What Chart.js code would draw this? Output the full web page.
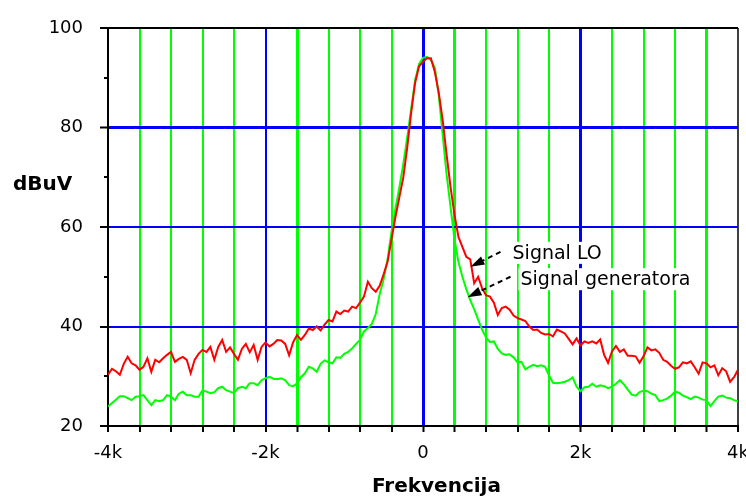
<!DOCTYPE html>
<html>
<head>
<meta charset="utf-8">
<script src="https://cdn.jsdelivr.net/npm/chart.js@4/dist/chart.umd.min.js"></script>
<style>
html,body{margin:0;padding:0;background:#fff;}
canvas{display:block;}
</style>
</head>
<body>
<canvas id="c" width="746" height="497"></canvas>
<script>
// ---- data ----
const FREQ_HZ = Array.from({length: 161}, (_, i) => -4000 + 50 * i);

const SIGNAL_LO = [
 30.3,31.5,31.0,30.3,32.5,33.9,32.6,32.2,31.3,31.9,
 33.6,30.9,33.3,32.8,33.6,34.3,34.9,32.9,33.5,33.9,
 33.3,30.6,33.3,34.5,35.3,34.9,35.9,33.3,35.9,37.3,
 34.9,35.8,34.5,33.3,35.5,36.5,34.8,36.3,33.3,35.9,
 36.8,36.0,36.5,37.3,37.2,36.5,34.2,36.8,38.3,37.3,
 38.3,39.6,39.3,40.0,39.2,40.4,41.3,41.0,43.0,42.5,
 43.2,43.0,44.0,43.7,44.8,46.0,49.0,47.7,47.0,48.2,
 50.5,53.0,57.5,62.0,66.0,70.0,76.0,83.0,89.0,92.3,
 93.2,93.9,93.9,91.2,87.0,81.5,74.5,68.0,62.5,58.0,
 56.0,54.0,53.5,48.7,50.0,47.7,46.3,46.0,44.8,42.3,
 43.7,44.0,43.4,42.2,41.7,41.4,41.1,40.0,39.3,39.4,
 38.7,38.4,38.5,38.0,39.4,39.0,38.6,37.5,36.4,37.6,
 36.2,37.0,36.7,37.0,36.6,37.4,34.3,32.7,35.0,36.1,
 34.9,35.4,34.1,34.1,34.0,32.7,34.0,35.8,35.2,35.4,
 34.7,33.3,32.9,32.1,31.5,31.8,32.8,32.6,33.0,31.8,
 30.5,32.8,32.6,31.8,32.2,30.2,31.6,31.0,28.9,29.8,
 31.3
];

const SIGNAL_GEN = [
 23.9,24.6,25.3,26.0,26.0,25.6,25.2,25.9,26.0,26.2,
 25.2,24.2,25.2,25.0,25.2,26.2,25.9,25.2,26.5,26.9,
 26.2,26.2,25.9,25.9,27.2,26.9,26.6,26.8,27.6,27.9,
 27.2,26.9,26.6,27.6,27.9,27.6,28.6,28.6,28.2,29.2,
 29.6,29.9,29.5,29.4,29.6,29.2,28.2,28.0,28.5,29.8,
 30.6,31.9,31.6,30.9,32.5,33.2,32.8,32.6,33.8,33.7,
 34.5,34.9,35.6,36.5,37.3,39.0,39.7,40.5,42.5,46.5,
 49.5,53.5,59.0,63.7,68.0,72.7,78.0,83.8,89.5,92.8,
 94.0,94.2,93.6,92.0,86.5,78.5,70.5,64.0,57.5,53.0,
 50.0,47.5,45.3,43.5,41.4,39.4,37.8,36.9,37.0,35.5,
 34.6,34.3,34.4,33.8,32.8,32.9,31.4,31.9,32.3,32.0,
 32.2,31.9,30.2,28.7,28.6,28.7,28.9,29.2,29.8,27.9,
 27.0,27.8,27.9,28.5,27.9,28.2,28.0,27.6,27.9,28.5,
 29.2,28.4,27.3,26.3,26.1,26.8,27.1,27.0,26.5,26.2,
 25.0,25.2,25.5,26.1,26.9,26.7,26.1,25.8,25.4,25.9,
 25.7,25.3,25.2,24.0,25.0,25.9,26.1,25.7,25.6,25.2,
 24.9
];

const SERIES_NAMES = ['Signal LO', 'Signal generatora'];
const X_TICK_VALUES = [-4000, -2000, 0, 2000, 4000];
const X_TICK_TEXT = ['-4k', '-2k', '0', '2k', '4k'];
const Y_TICK_VALUES = [20, 40, 60, 80, 100];
const X_TITLE = 'Frekvencija';
const Y_TITLE = 'dBuV';

// ---- styling helpers ----
const FONT = '"DejaVu Sans", sans-serif';
const BLUE = '#0000ff', GREEN = '#00ff00', RED = '#ff0000';
const THICK_X = [-1600, 0, 400, 2000, 3600];

// annotation placement in data coordinates
const LABELS = [
  {text: SERIES_NAMES[0], x: 1137, y: 53.6, tail: [984, 55.0], tip: [603, 52.0]},
  {text: SERIES_NAMES[1], x: 1238, y: 48.3, tail: [1111, 50.0], tip: [565, 45.9]}
];

function drawArrow(ctx, x0, y0, x1, y1) {
  const dx = x1 - x0, dy = y1 - y0, len = Math.hypot(dx, dy);
  const ux = dx / len, uy = dy / len;
  const head = 14, hw = 4.5;
  const bx = x1 - ux * head, by = y1 - uy * head;
  ctx.save();
  ctx.strokeStyle = '#000';
  ctx.lineWidth = 2;
  ctx.setLineDash([5, 4]);
  ctx.beginPath(); ctx.moveTo(x0, y0); ctx.lineTo(bx, by); ctx.stroke();
  ctx.setLineDash([]);
  ctx.fillStyle = '#000';
  ctx.beginPath();
  ctx.moveTo(x1, y1);
  ctx.lineTo(bx - uy * hw, by + ux * hw);
  ctx.lineTo(bx + uy * hw, by - ux * hw);
  ctx.closePath(); ctx.fill();
  ctx.restore();
}

const overlay = {
  id: 'overlay',
  afterDraw(chart) {
    const {ctx, chartArea: a, scales: {x, y}} = chart;
    ctx.save();
    // minor y ticks
    ctx.strokeStyle = '#000'; ctx.lineWidth = 2;
    y.ticks.forEach(t => {
      if (!Y_TICK_VALUES.includes(t.value)) {
        const py = Math.round(y.getPixelForValue(t.value));
        ctx.beginPath(); ctx.moveTo(a.left - 4, py); ctx.lineTo(a.left, py); ctx.stroke();
      }
    });
    // axis titles
    ctx.fillStyle = '#000';
    ctx.font = 'bold 20px ' + FONT;
    ctx.textBaseline = 'alphabetic';
    ctx.textAlign = 'left';
    ctx.fillText(Y_TITLE, 13, y.getPixelForValue(67.4));
    ctx.textAlign = 'center';
    ctx.fillText(X_TITLE, x.getPixelForValue(171), a.bottom + 66);
    // series labels with arrows
    ctx.font = '19px ' + FONT;
    ctx.textAlign = 'left';
    LABELS.forEach(l => {
      const px = x.getPixelForValue(l.x), py = y.getPixelForValue(l.y);
      const w = ctx.measureText(l.text).width;
      ctx.fillStyle = '#fff';
      ctx.fillRect(px - 2, py - 17, w + 4, 22);
      ctx.fillStyle = '#000';
      ctx.fillText(l.text, px, py);
      drawArrow(ctx, x.getPixelForValue(l.tail[0]), y.getPixelForValue(l.tail[1]),
                     x.getPixelForValue(l.tip[0]), y.getPixelForValue(l.tip[1]));
    });
    ctx.restore();
  }
};

new Chart(document.getElementById('c'), {
  type: 'line',
  data: {
    datasets: [
      {label: SERIES_NAMES[0], data: FREQ_HZ.map((f, i) => ({x: f, y: SIGNAL_LO[i]})),
       borderColor: RED, borderWidth: 2, pointRadius: 0, tension: 0, fill: false},
      {label: SERIES_NAMES[1], data: FREQ_HZ.map((f, i) => ({x: f, y: SIGNAL_GEN[i]})),
       borderColor: GREEN, borderWidth: 2, pointRadius: 0, tension: 0, fill: false}
    ]
  },
  options: {
    responsive: false,
    animation: false,
    devicePixelRatio: 1,
    layout: {padding: {top: 28, right: 8, left: 0, bottom: 0}},
    plugins: {legend: {display: false}, tooltip: {enabled: false}, title: {display: false}},
    scales: {
      x: {
        type: 'linear', min: -4000, max: 4000,
        ticks: {
          stepSize: 400, autoSkip: false, maxRotation: 0, minRotation: 0, padding: 11,
          color: '#000', font: {family: FONT, size: 18},
          callback: v => { const i = X_TICK_VALUES.indexOf(Math.round(v)); return i >= 0 ? X_TICK_TEXT[i] : ''; }
        },
        grid: {
          color: c => {
            const v = Math.round(c.tick.value);
            if (v === -4000) return '#000';
            if (v === 4000) return '#404040';
            if (v % 2000 === 0) return BLUE;
            return GREEN;
          },
          lineWidth: c => THICK_X.includes(Math.round(c.tick.value)) ? 3 : 2,
          tickLength: 6, tickColor: '#000', tickWidth: 2
        },
        border: {color: '#000', width: 2},
        afterFit(s) { s.height = 71; s.paddingLeft = 0; s.paddingRight = 0; }
      },
      y: {
        min: 20, max: 100,
        ticks: {
          stepSize: 10, autoSkip: false, padding: 17,
          color: '#000', font: {family: FONT, size: 18},
          callback: v => Y_TICK_VALUES.includes(v) ? String(v) : ''
        },
        grid: {
          color: c => {
            const v = c.tick.value;
            if (v === 100) return '#000';
            if (v === 80 || v === 60 || v === 40) return BLUE;
            return 'rgba(0,0,0,0)';
          },
          lineWidth: c => c.tick.value === 80 ? 3 : 2,
          tickLength: 8,
          tickColor: c => Y_TICK_VALUES.includes(c.tick.value) ? '#000' : 'rgba(0,0,0,0)',
          tickWidth: 2
        },
        border: {color: '#000', width: 2},
        afterFit(s) { s.width = 108; s.paddingTop = 0; s.paddingBottom = 0; }
      }
    }
  },
  plugins: [overlay]
});
</script>
</body>
</html>
